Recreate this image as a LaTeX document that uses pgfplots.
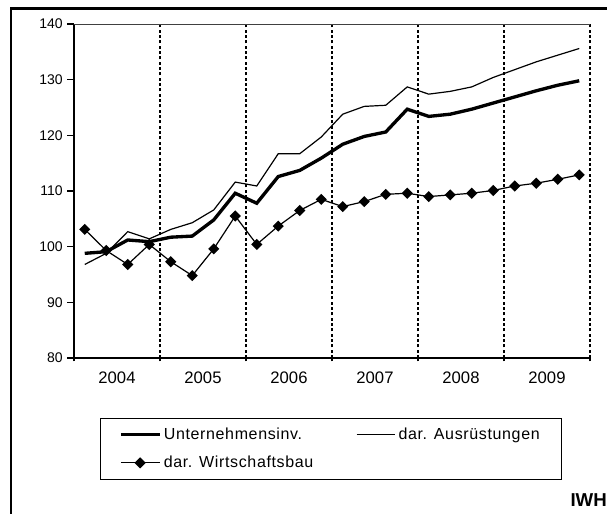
\documentclass[border=0pt]{standalone}
\usepackage{fontspec}
\setmainfont{Liberation Sans}
\newfontfamily\legfont[LetterSpace=4]{Liberation Sans}
\usepackage{pgfplots}
\pgfplotsset{compat=1.18}
\pgfplotstableread{
x  unt    aus    wib
0  98.8   96.8   103.1
1  99.1   98.8   99.3
2  101.2  102.7  96.8
3  100.9  101.4  100.4
4  101.7  103.1  97.3
5  101.9  104.3  94.8
6  104.8  106.6  99.6
7  109.6  111.6  105.5
8  107.8  110.9  100.4
9  112.6  116.7  103.7
10 113.7  116.7  106.5
11 115.9  119.7  108.5
12 118.4  123.8  107.2
13 119.8  125.2  108.1
14 120.6  125.4  109.4
15 124.7  128.7  109.6
16 123.4  127.4  109.0
17 123.8  127.9  109.3
18 124.7  128.7  109.6
19 125.8  130.4  110.1
20 126.9  131.8  110.9
21 128.0  133.2  111.4
22 129.0  134.4  112.1
23 129.8  135.6  112.9
}\datatable
\begin{document}
\begin{tikzpicture}[x=1pt,y=1pt]
\useasboundingbox (0,0) rectangle (455.25,385.5);
\draw[line width=2pt] (8.25,-2) -- (8.25,379.3) -- (457,379.3);
\begin{axis}[
  at={(55.5pt,117pt)}, anchor=south west,
  scale only axis, width=387pt, height=250.5pt,
  xmin=-0.5, xmax=23.5, ymin=80, ymax=140,
  axis x line*=bottom, axis y line*=left,
  axis line style={line width=1.4pt, -},
  tick align=outside,
  ytick={80,90,...,140},
  major tick length=5pt,
  tick style={black, line width=0.9pt},
  xtick={1.5,5.5,...,21.5},
  xticklabels={2004,2005,2006,2007,2008,2009},
  major x tick style={draw=none},
  minor xtick={-0.5,3.5,7.5,11.5,15.5,19.5,23.5},
  minor tick length=5pt,
  minor x tick style={yshift=2.5pt, line width=0.9pt, black},
  xminorgrids=true,
  minor x grid style={black, line width=1.4pt, dash pattern=on 2.3pt off 1.7pt},
  /pgf/number format/assume math mode=true,
  y tick label style={font=\fontsize{10.5}{12}\selectfont},
  x tick label style={font=\fontsize{12.5}{15}\selectfont, yshift=-2pt},
  legend columns=2,
  legend cell align=left,
  legend image code/.code={\draw[mark repeat=2,mark phase=2,#1] plot coordinates {(0pt,0pt) (14.5pt,0pt) (29pt,0pt)};},
  legend style={at={(0.0504,-0.1796)}, anchor=north west, draw=black, line width=0.75pt,
    font=\legfont\fontsize{12}{14}\selectfont, inner xsep=14pt, inner ysep=5pt,
    row sep=7pt,
    /tikz/every even column/.append style={column sep=30pt}},
]
\addplot[black, line width=2.5pt, no marks] table[x=x,y=unt]{\datatable};
\addlegendentry{Unternehmensinv.}
\addplot[black, line width=0.9pt, no marks] table[x=x,y=aus]{\datatable};
\addlegendentry{dar. Ausrüstungen}
\addplot[black, line width=0.9pt, mark=square*, mark size=2.5pt, mark options={rotate=45, solid}] table[x=x,y=wib]{\datatable};
\addlegendentry{dar. Wirtschaftsbau}
\draw[black!75, line width=0.7pt] (rel axis cs:0,1) -- (rel axis cs:1,1);
\end{axis}
\node[font=\fontsize{14}{16}\selectfont\bfseries] at (441.5,10.5) {IWH};
\end{tikzpicture}
\end{document}
